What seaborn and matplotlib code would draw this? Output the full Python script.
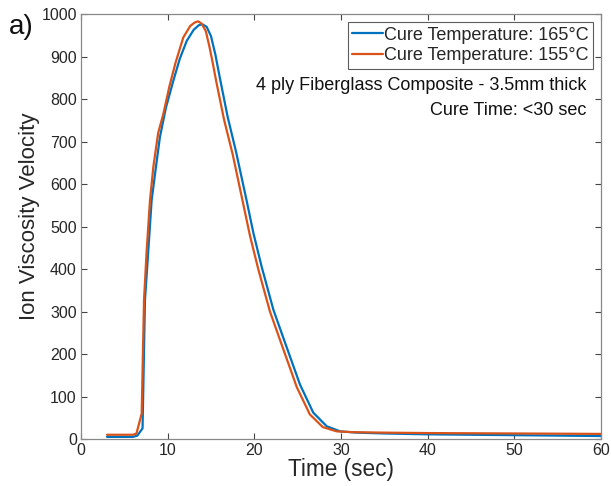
import matplotlib
matplotlib.use("Agg")
import matplotlib.pyplot as plt
import seaborn as sns
import pandas as pd

# Data
t_165 = [3, 6.0, 6.5, 7.1, 7.38, 7.77, 8.15, 8.65, 9.1, 9.8, 10.65, 11.4, 12.2, 13.0, 13.6,
         14.0, 14.5, 15.0, 15.5, 16.0, 16.9, 17.9, 19.1, 19.9, 20.85, 22.2, 23.8, 25.27,
         26.8, 28.35, 29.9, 31.8, 35, 40, 45, 50, 55, 60]
v_165 = [5, 5, 8, 25, 327, 445, 562, 641, 710, 780, 843, 895, 937, 963, 974,
         976, 970, 948, 905, 852, 760, 675, 562, 484, 405, 304, 212, 128,
         62, 30, 18, 15, 13, 11, 10, 9, 8, 7]

t_155 = [3, 6.0, 6.4, 7.0, 7.27, 7.58, 7.96, 8.35, 8.9, 9.5, 10.2, 10.9, 11.8, 12.6, 13.1,
         13.5, 13.9, 14.4, 14.8, 15.2, 15.6, 16.5, 17.5, 18.7, 19.5, 20.45, 21.8, 23.4,
         24.9, 26.4, 27.9, 29.5, 31.5, 35, 40, 50, 60]
v_155 = [10, 10, 13, 60, 327, 445, 562, 641, 720, 765, 830, 885, 945, 972, 980,
         983, 978, 960, 925, 885, 842, 752, 670, 555, 478, 400, 300, 208,
         122, 58, 28, 18, 16, 15, 14, 13, 12]

labels = ["Cure Temperature: 165°C", "Cure Temperature: 155°C"]
colors = ["#0072BD", "#D95319"]
x_ticks = [0, 10, 20, 30, 40, 50, 60]
y_ticks = [0, 100, 200, 300, 400, 500, 600, 700, 800, 900, 1000]

df = pd.concat([
    pd.DataFrame({"t": t_165, "v": v_165, "series": labels[0]}),
    pd.DataFrame({"t": t_155, "v": v_155, "series": labels[1]}),
], ignore_index=True)

sns.set_style("white")
plt.rcParams['font.family'] = ['Liberation Sans', 'DejaVu Sans']

fig = plt.figure(figsize=(6.11, 4.86), dpi=100)
ax = fig.add_axes([0.1326, 0.0967, 0.851, 0.8743])

sns.lineplot(data=df, x="t", y="v", hue="series", palette=colors, hue_order=labels,
             linewidth=1.6, ax=ax, sort=False, estimator=None)

ax.set_xlim(0, 60)
ax.set_ylim(0, 1000)
ax.set_xticks(x_ticks)
ax.set_yticks(y_ticks)
ax.tick_params(direction="in", length=4, width=0.8, color="#444444",
               labelsize=11.5, labelcolor="#262626", top=True, right=True,
               bottom=True, left=True, pad=3)
ax.tick_params(axis="x", labeltop=False)
ax.tick_params(axis="y", labelright=False)
for s in ax.spines.values():
    s.set_color("#888888")
    s.set_linewidth(0.9)

ax.set_xlabel("Time (sec)", fontsize=16.3, color="#262626", labelpad=0)
ax.set_ylabel("Ion Viscosity Velocity", fontsize=16, color="#262626")
ax.yaxis.set_label_coords(-0.078, 0.525)

leg = ax.legend(loc="upper right", fontsize=13, frameon=True, fancybox=False,
                edgecolor="#333333", handlelength=1.7, handletextpad=0.05,
                borderpad=0.25, labelspacing=0.2, borderaxespad=0.45)
leg.get_frame().set_linewidth(0.8)

ax.text(58.3, 833, "4 ply Fiberglass Composite - 3.5mm thick", ha="right", va="center",
        fontsize=13, color="#111111")
ax.text(58.3, 774, "Cure Time: <30 sec", ha="right", va="center",
        fontsize=13, color="#111111")

fig.text(0.015, 0.945, "a)", fontsize=20, ha="left", va="center", color="#111111")

fig.savefig("out.png", dpi=100)
